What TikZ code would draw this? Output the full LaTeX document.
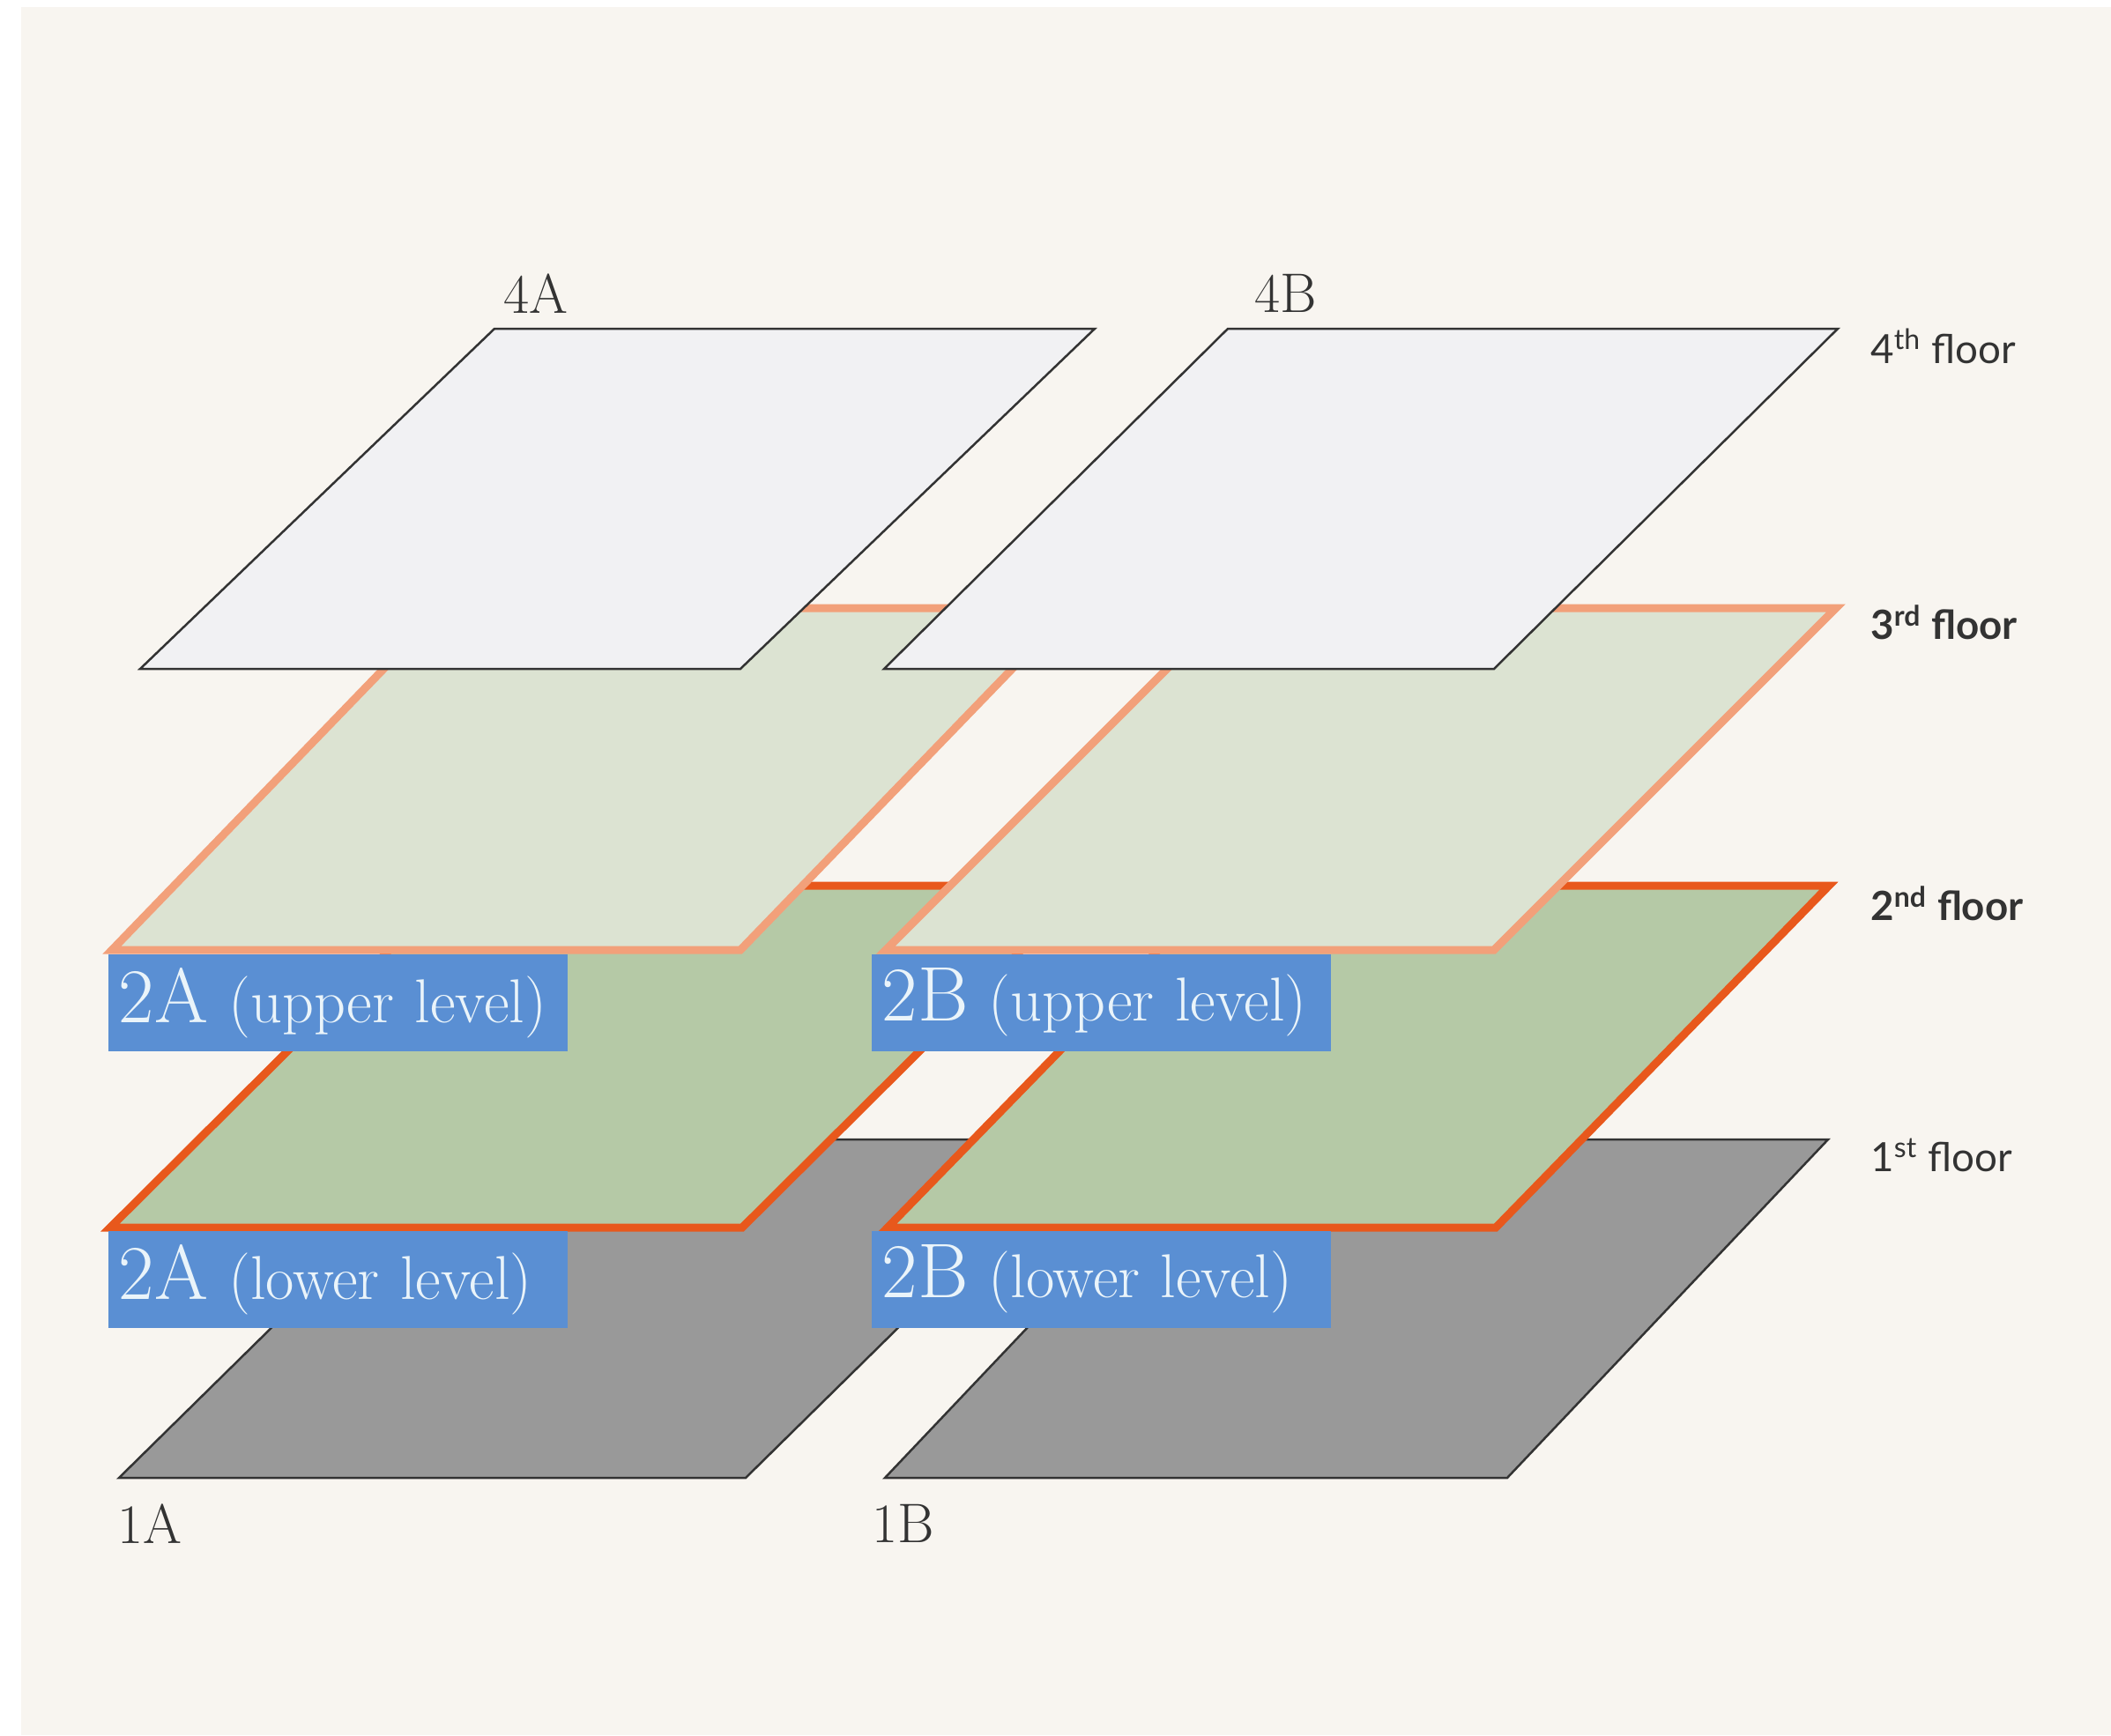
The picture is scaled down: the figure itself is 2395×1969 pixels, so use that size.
\documentclass[tikz,border=0pt]{standalone}
\usepackage{fontspec}
\newfontfamily\floorfont{Lato}
\usepackage{tikz}
\definecolor{paper}{HTML}{F8F5F0}
\definecolor{roof}{HTML}{F1F1F3}
\definecolor{mezz}{HTML}{DCE3D2}
\definecolor{mezzline}{HTML}{F2A07A}
\definecolor{deck}{HTML}{B5C9A6}
\definecolor{deckline}{HTML}{E8581C}
\definecolor{ground}{HTML}{999999}
\definecolor{tagblue}{HTML}{5A8FD3}
\definecolor{tagtext}{HTML}{EAF4FA}
\definecolor{ink}{HTML}{333333}
\tikzset{
  fourth/.style={fill=roof, draw=ink, line width=0.25mm},
  third/.style={fill=mezz, draw=mezzline, line width=0.9mm},
  second/.style={fill=deck, draw=deckline, line width=0.9mm},
  first/.style={fill=ground, draw=ink, line width=0.25mm},
  tag/.style={fill=tagblue, text=tagtext, anchor=north west, inner xsep=1.2mm,
    inner ysep=0pt, text width=49.7mm, minimum height=11mm, align=left,
    font=\fontsize{20}{20}\selectfont},
  lab/.style={text=ink, font=\fontsize{18}{18}\selectfont},
  floorlab/.style={text=ink, anchor=west, font=\floorfont\fontsize{13}{13}\selectfont},
}
% plate: style, left x, right x, slant, bottom y, top y
\newcommand{\plate}[6]{%
  \draw[#1] (#2,#5) -- (#3,#5) -- ({#3+#4},#6) -- ({#2+#4},#6) -- cycle;}
\newcommand{\unitno}[1]{{\fontsize{25}{25}\selectfont #1}}

\begin{document}
\begin{tikzpicture}[x=0.1mm, y=-0.1mm]
  \fill[white] (0,0) rectangle (2395,1969);
  \fill[paper] (24,8) rectangle (2395,1969);
  \useasboundingbox (0,0) rectangle (2395,1969);

  % floors, bottom to top
  \plate{first}{135}{846}{390}{1677}{1293}
  \plate{first}{1004}{1710}{364}{1677}{1293}
  \plate{second}{125}{842}{390}{1393}{1005}
  \plate{second}{1007}{1697}{378}{1393}{1005}
  \plate{third}{127}{840}{375}{1078}{690}
  \plate{third}{1005}{1695}{388}{1078}{690}
  \plate{fourth}{159}{840}{402}{759}{373}
  \plate{fourth}{1003}{1695}{390}{759}{373}

  % unit tags
  \node[tag] (up2A) at (122,1082) {\unitno{2A} (upper level)};
  \node[tag] (up2B) at (988,1082) {\unitno{2B} (upper level)};
  \node[tag] (lo2A) at (122,1396) {\unitno{2A} (lower level)};
  \node[tag] (lo2B) at (988,1396) {\unitno{2B} (lower level)};

  \node[lab] (u4A) at (608,333) {4A};
  \node[lab] (u4B) at (1459,333) {4B};
  \node[lab] (u1A) at (170,1729) {1A};
  \node[lab] (u1B) at (1025,1729) {1B};

  \node[floorlab] (f4) at (2110,393) {4\textsuperscript{th} floor};
  \node[floorlab, font=\floorfont\bfseries\fontsize{13}{13}\selectfont] (f3) at (2110,706) {3\textsuperscript{rd} floor};
  \node[floorlab, font=\floorfont\bfseries\fontsize{13}{13}\selectfont] (f2) at (2110,1025) {2\textsuperscript{nd} floor};
  \node[floorlab] (f1) at (2110,1311) {1\textsuperscript{st} floor};
\end{tikzpicture}
\end{document}
